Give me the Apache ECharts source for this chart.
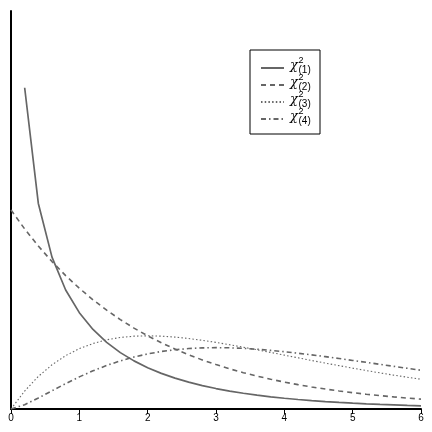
<!DOCTYPE html>
<html>
<head>
<meta charset="utf-8">
<script src="https://cdn.jsdelivr.net/npm/echarts@6/dist/echarts.min.js"></script>
<style>html,body{margin:0;padding:0;background:#fff}#c{width:432px;height:432px}</style>
</head>
<body>
<div id="c"></div>
<script>
const xs = [0,0.2,0.4,0.6,0.8,1.0,1.2,1.4,1.6,1.8,2.0,2.2,2.4,2.6,2.8,3.0,3.2,3.4,3.6,3.8,4.0,4.2,4.4,4.6,4.8,5.0,5.2,5.4,5.6,5.8,6.0];
const xTicks = ['0','1','2','3','4','5','6'];
const legendNames = ['(1)','(2)','(3)','(4)'];
// curve 1 (solid) starts at x = 0.2
const curve1 = [null,0.8072,0.5164,0.3815,0.2990,0.2420,0.1999,0.1674,0.1417,0.1209,0.1038,0.0895,0.0776,0.0674,0.0588,0.0514,0.0450,0.0395,0.0348,0.0306,0.0270,0.0238,0.0211,0.0186,0.0165,0.0146,0.0130,0.0115,0.0103,0.0091,0.0081];
const curve2 = [0.5000,0.4524,0.4094,0.3704,0.3352,0.3033,0.2744,0.2483,0.2247,0.2033,0.1839,0.1664,0.1506,0.1363,0.1233,0.1116,0.1009,0.0913,0.0826,0.0748,0.0677,0.0612,0.0554,0.0501,0.0454,0.0410,0.0371,0.0336,0.0304,0.0275,0.0249];
const curve3 = [0,0.0452,0.0819,0.1111,0.1341,0.1516,0.1646,0.1738,0.1797,0.1830,0.1839,0.1831,0.1807,0.1771,0.1726,0.1673,0.1615,0.1553,0.1488,0.1421,0.1353,0.1286,0.1219,0.1153,0.1089,0.1026,0.0966,0.0907,0.0851,0.0798,0.0747];
const curve4 = [0,0.0108,0.0276,0.0458,0.0638,0.0807,0.0959,0.1094,0.1209,0.1306,0.1384,0.1445,0.1489,0.1519,0.1536,0.1542,0.1537,0.1523,0.1501,0.1473,0.1440,0.1401,0.1360,0.1316,0.1269,0.1220,0.1172,0.1121,0.1072,0.1023,0.0974];

function pairs(arr){ const out=[]; arr.forEach((v,i)=>{ if(v!==null) out.push([xs[i], v]); }); return out; }

const col = '#666666';
const chart = echarts.init(document.getElementById('c'), null, {renderer:'canvas'});
function mk(name, arr, type, width){
  return {
    name: name, type:'line', data: pairs(arr), symbol:'none', silent:true, animation:false,
    lineStyle:{color:col, width:width, type:type}, itemStyle:{color:col}
  };
}
// legend label texts (chi with super/subscripts), one set per legend row
const legendTop = 68, legendStep = 17;
const labelGraphics = [];
legendNames.forEach((n,i)=>{
  const cy = legendTop + i*legendStep;
  labelGraphics.push({type:'text', silent:true, z:100, zlevel:1, style:{text:'χ', x:290, y:cy-2, fill:'#000',
    font:'italic 13px "DejaVu Serif", serif', verticalAlign:'middle', align:'left'}});
  labelGraphics.push({type:'text', silent:true, z:100, zlevel:1, style:{text:'2', x:298.5, y:cy-7.5, fill:'#000',
    font:'9px "Liberation Sans", Arial, sans-serif', verticalAlign:'middle', align:'left'}});
  labelGraphics.push({type:'text', silent:true, z:100, zlevel:1, style:{text:n, x:298.5, y:cy+2.5, fill:'#000',
    font:'10px "Liberation Sans", Arial, sans-serif', verticalAlign:'middle', align:'left'}});
});
chart.setOption({
  animation:false,
  grid:{left:11, right:11, top:11, bottom:23},
  xAxis:{type:'value', min:0, max:6, interval:1,
    axisLine:{lineStyle:{color:'#000', width:2}},
    axisTick:{length:5, lineStyle:{color:'#000', width:1}},
    axisLabel:{color:'#000', fontSize:10, margin:4, fontFamily:'Liberation Sans, Arial, sans-serif',
      formatter:(v)=>xTicks[Math.round(v)]},
    splitLine:{show:false}},
  yAxis:{type:'value', min:0, max:1,
    axisLine:{show:true, lineStyle:{color:'#000', width:2}},
    axisTick:{show:false}, axisLabel:{show:false}, splitLine:{show:false}},
  legend:{
    orient:'vertical', left:250, top:50, padding:[13,6,10,10],
    borderColor:'#000', borderWidth:1, backgroundColor:'transparent',
    itemWidth:23, itemHeight:10, itemGap:7,
    itemStyle:{opacity:0},
    data: legendNames,
    formatter:()=>'{w| }',
    textStyle:{color:'#000', fontSize:8, lineHeight:10, rich:{w:{width:25, fontSize:8, lineHeight:10}}}
  },
  graphic: {elements: labelGraphics},
  series:[
    mk(legendNames[0], curve1, 'solid', 1.7),
    mk(legendNames[1], curve2, [5,4], 1.6),
    mk(legendNames[2], curve3, [1.5,2.2], 1.1),
    mk(legendNames[3], curve4, [5,3,1.5,3], 1.6)
  ]
});
</script>
</body>
</html>
